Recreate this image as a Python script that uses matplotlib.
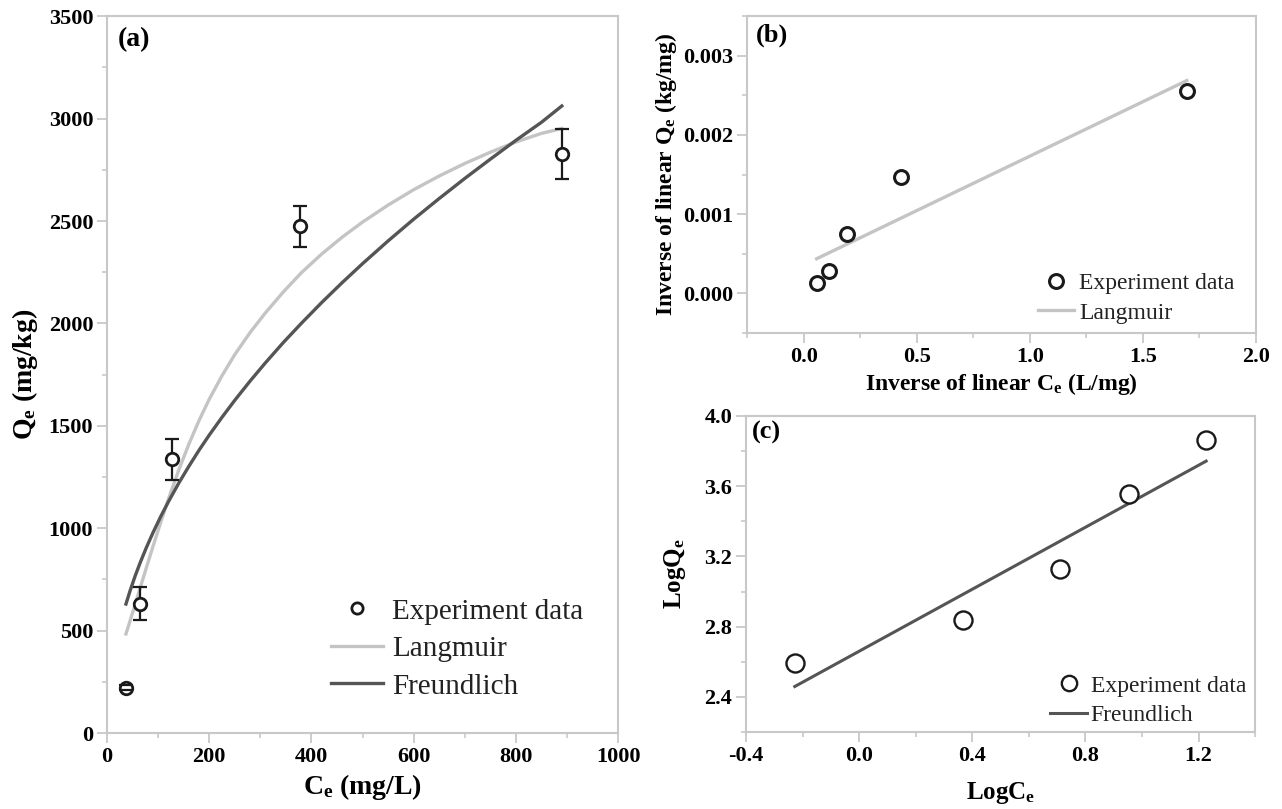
import matplotlib
matplotlib.use('Agg')
import matplotlib.pyplot as plt
from matplotlib.ticker import MultipleLocator, FormatStrFormatter

# ------------------------------------------------------------------
# Data
# ------------------------------------------------------------------
# (a) isotherm: experiment points with error bars
ce_exp = [38, 65, 128, 378, 890]
qe_exp = [222, 632, 1338, 2475, 2827]
qe_err = [12, 80, 100, 100, 122]

# (a) fitted curves
ce_fit = [37, 45, 55, 65, 77, 90, 105, 120, 140, 160, 180, 200, 225, 250, 280,
          310, 345, 380, 420, 460, 500, 550, 600, 650, 700, 750, 800, 850, 890]
qe_langmuir = [484, 547, 628, 710, 808, 912, 1029, 1142, 1282, 1410, 1526, 1630,
               1745, 1848, 1956, 2052, 2154, 2247, 2339, 2421, 2495, 2578, 2653,
               2720, 2781, 2836, 2886, 2928, 2952]
qe_freundlich = [630, 694, 767, 833, 906, 979, 1057, 1129, 1219, 1302, 1381, 1455,
                 1542, 1625, 1719, 1808, 1907, 2000, 2102, 2199, 2292, 2403, 2509,
                 2610, 2708, 2802, 2894, 2982, 3062]

# (b) linearised Langmuir
inv_ce = [0.058, 0.112, 0.193, 0.429, 1.694]
inv_qe = [0.000134, 0.000282, 0.000752, 0.001466, 0.00255]
inv_line_x = [0.058, 1.694]
inv_line_y = [0.000437, 0.002685]

# (c) linearised Freundlich
log_ce = [-0.228, 0.366, 0.710, 0.954, 1.227]
log_qe = [2.595, 2.837, 3.128, 3.555, 3.862]
log_line_x = [-0.228, 1.227]
log_line_y = [2.459, 3.743]

# ------------------------------------------------------------------
plt.rcParams['font.family'] = 'Liberation Serif'
plt.rcParams['font.weight'] = 'bold'
plt.rcParams['axes.labelweight'] = 'bold'
plt.rcParams['mathtext.fontset'] = 'custom'
plt.rcParams['mathtext.rm'] = 'Liberation Serif:bold'
plt.rcParams['mathtext.it'] = 'Liberation Serif:bold'
plt.rcParams['mathtext.bf'] = 'Liberation Serif:bold'
plt.rcParams['mathtext.default'] = 'bf'

light = '#c4c4c4'
dark = '#555555'
spine_col = '#c8c8c8'
legend_font = {'family': 'Liberation Serif', 'weight': 'normal'}

fig = plt.figure(figsize=(12.82, 8.09), dpi=100)
fig.patch.set_facecolor('white')
ax_a = fig.add_axes([0.0835, 0.0939, 0.3986, 0.886])
ax_b = fig.add_axes([0.5827, 0.5884, 0.397, 0.3918])
ax_c = fig.add_axes([0.582, 0.0952, 0.397, 0.3906])


def style(ax):
    for s in ax.spines.values():
        s.set_color(spine_col)
        s.set_linewidth(1.5)
    ax.tick_params(which='major', direction='out', length=7, width=1.3,
                   color=spine_col, labelsize=16, pad=3)
    ax.tick_params(which='minor', direction='out', length=3.5, width=1.2,
                   color=spine_col)


# ---------------- (a) ----------------
ax = ax_a
ax.plot(ce_fit, qe_langmuir, color=light, lw=2.4, label='Langmuir', zorder=2)
ax.plot(ce_fit, qe_freundlich, color=dark, lw=2.4, label='Freundlich', zorder=2)
ax.plot(ce_exp, qe_exp, 'o', ms=9, mfc='white', mec='#1a1a1a', mew=2.0,
        label='Experiment data', zorder=4)
_, caps, bars = ax.errorbar(ce_exp, qe_exp, yerr=qe_err, fmt='none', ecolor='#1a1a1a',
                            elinewidth=1.6, capsize=5, capthick=1.6)
bars[0].set_zorder(3)
for c in caps:
    c.set_zorder(5)
ax.set_xlim(0, 1000)
ax.set_ylim(0, 3500)
ax.xaxis.set_major_locator(MultipleLocator(200))
ax.xaxis.set_minor_locator(MultipleLocator(100))
ax.yaxis.set_major_locator(MultipleLocator(500))
ax.yaxis.set_minor_locator(MultipleLocator(250))
style(ax)
ax.set_xlabel(r'$C_e$ (mg/L)', fontsize=20, labelpad=4)
ax.set_ylabel(r'$Q_e$ (mg/kg)', fontsize=20, labelpad=6)
ax.text(0.02, 0.985, '(a)', transform=ax.transAxes, fontsize=20,
        fontweight='bold', va='top', ha='left')
h, l = ax.get_legend_handles_labels()
order = [2, 0, 1]
ax.legend([h[i] for i in order], [l[i] for i in order], loc='upper left',
          bbox_to_anchor=(0.438, 0.188), frameon=False, borderpad=0, borderaxespad=0,
          handlelength=1.8, handletextpad=0.3, labelspacing=0.38, markerscale=0.9,
          prop=dict(legend_font, size=21), labelcolor='#222222')

# ---------------- (b) ----------------
ax = ax_b
ax.plot(inv_ce, inv_qe, 'o', ms=10, mfc='white', mec='#1a1a1a', mew=2.2,
        label='Experiment data', zorder=4)
ax.plot(inv_line_x, inv_line_y, color=light, lw=2.4, label='Langmuir', zorder=2)
ax.set_xlim(-0.25, 2.0)
ax.set_ylim(-0.0005, 0.0035)
ax.xaxis.set_major_locator(MultipleLocator(0.5))
ax.xaxis.set_minor_locator(MultipleLocator(0.25))
ax.yaxis.set_major_locator(MultipleLocator(0.001))
ax.yaxis.set_minor_locator(MultipleLocator(0.0005))
ax.xaxis.set_major_formatter(FormatStrFormatter('%.1f'))
ax.yaxis.set_major_formatter(FormatStrFormatter('%.3f'))
style(ax)
ax.set_xlabel(r'Inverse of linear $C_e$ (L/mg)', fontsize=17, labelpad=3)
ax.set_ylabel(r'Inverse of linear $Q_e$ (kg/mg)', fontsize=17, labelpad=3)
ax.text(0.017, 0.975, '(b)', transform=ax.transAxes, fontsize=19,
        fontweight='bold', va='top', ha='left')
ax.legend(loc='upper left', bbox_to_anchor=(0.572, 0.19), frameon=False,
          borderpad=0, borderaxespad=0, handlelength=1.5, handletextpad=0.25,
          labelspacing=0.33, prop=dict(legend_font, size=17), labelcolor='#222222')

# ---------------- (c) ----------------
ax = ax_c
ax.plot(log_ce, log_qe, 'o', ms=13, mfc='white', mec='#1a1a1a', mew=1.7,
        label='Experiment data', zorder=4)
ax.plot(log_line_x, log_line_y, color=dark, lw=2.2, label='Freundlich', zorder=2)
ax.set_xlim(-0.4, 1.4)
ax.set_ylim(2.2, 4.0)
ax.xaxis.set_major_locator(MultipleLocator(0.4))
ax.xaxis.set_minor_locator(MultipleLocator(0.2))
ax.yaxis.set_major_locator(MultipleLocator(0.4))
ax.yaxis.set_minor_locator(MultipleLocator(0.2))
ax.xaxis.set_major_formatter(FormatStrFormatter('%.1f'))
ax.yaxis.set_major_formatter(FormatStrFormatter('%.1f'))
style(ax)
ax.set_xlabel(r'Log$C_e$', fontsize=18, labelpad=10)
ax.set_ylabel(r'Log$Q_e$', fontsize=18, labelpad=12)
ax.text(0.012, 0.985, '(c)', transform=ax.transAxes, fontsize=19,
        fontweight='bold', va='top', ha='left')
ax.legend(loc='upper left', bbox_to_anchor=(0.598, 0.18), frameon=False,
          borderpad=0, borderaxespad=0, handlelength=1.55, handletextpad=0.15,
          labelspacing=0.33, markerscale=0.85, prop=dict(legend_font, size=17),
          labelcolor='#222222')

fig.savefig('out.png', dpi=100, facecolor='white')
